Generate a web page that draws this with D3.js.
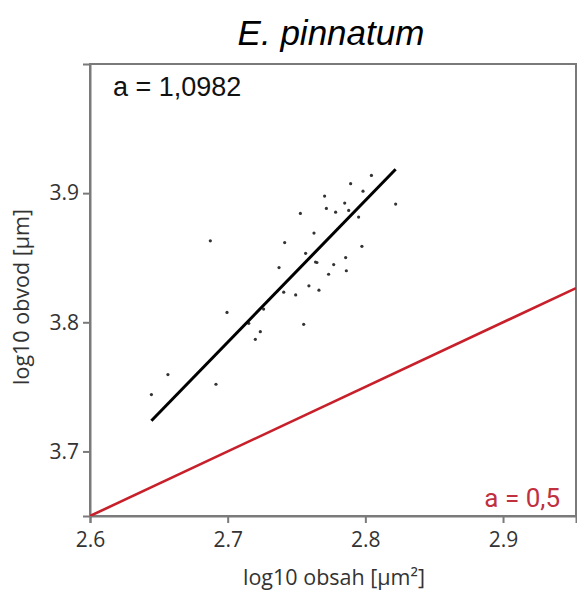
<!DOCTYPE html>
<html><head><meta charset="utf-8">
<script src="https://cdn.jsdelivr.net/npm/d3@7"></script>
<style>body{margin:0;background:#fff}</style>
</head><body>
<svg id="chart" width="577" height="592"></svg>
<script>
const title = "E. pinnatum";
const xLabel = "log10 obsah [µm²]";
const yLabel = "log10 obvod [µm]";
const fitLabel = "a = 1,0982";
const refLabel = "a = 0,5";
const xTicks = [2.6, 2.7, 2.8, 2.9];
const yTicks = [3.7, 3.8, 3.9];
const xDomain = [2.6, 2.953];
const yDomain = [3.65, 4.0];
const pointsX = [2.8044,2.7893,2.7983,2.7704,2.7850,2.8220,2.7717,2.7784,2.7879,2.7528,2.7951,2.7627,2.7414,2.7975,2.7566,2.7857,2.7638,2.7648,2.7373,2.7770,2.7862,2.7733,2.6874,2.7590,2.7663,2.7407,2.7494,2.7261,2.7552,2.7237,2.6995,2.7153,2.7201,2.6566,2.6915,2.6446];
const pointsY = [3.9137,3.9073,3.9015,3.8977,3.8923,3.8915,3.8882,3.8853,3.8866,3.8843,3.8815,3.8691,3.8617,3.8588,3.8534,3.8501,3.8467,3.8463,3.8424,3.8447,3.8399,3.8372,3.8631,3.8282,3.8249,3.8233,3.8212,3.8102,3.7984,3.7927,3.8076,3.7992,3.7868,3.7595,3.7520,3.7440];
const fitX = [2.6446, 2.8220];
const fitY = [3.7237, 3.9185];
const refX = [2.6, 2.953];
const refY = [3.65, 3.8265];

const svg = d3.select("#chart");
const L = 90, R = 576, T = 64, B = 516;
const x = d3.scaleLinear().domain(xDomain).range([L, R]);
const y = d3.scaleLinear().domain(yDomain).range([B, T]);
const axisColor = "#7a7a7a";
const tickFont = "'Open Sans', 'Noto Sans', sans-serif";

// frame
svg.append("rect").attr("x", L).attr("y", T).attr("width", R - L).attr("height", B - T)
  .attr("fill", "none").attr("stroke", axisColor).attr("stroke-width", 2);

const gx = svg.append("g").attr("transform", `translate(0,${B})`)
  .call(d3.axisBottom(x).tickValues(xTicks).tickFormat(d3.format(".1f")).tickSize(7).tickPadding(9));
const gy = svg.append("g").attr("transform", `translate(${L},0)`)
  .call(d3.axisLeft(y).tickValues(yTicks).tickFormat(d3.format(".1f")).tickSize(7).tickPadding(4));
[gx, gy].forEach(g => {
  g.select(".domain").attr("stroke", axisColor).attr("stroke-width", 2);
  g.selectAll(".tick line").attr("stroke", axisColor).attr("stroke-width", 2);
  g.selectAll(".tick text").attr("fill", "#333").style("font-family", tickFont).style("font-size", "21px");
});

const clip = svg.append("clipPath").attr("id", "clip").append("rect")
  .attr("x", L).attr("y", T).attr("width", R - L).attr("height", B - T);
const plot = svg.append("g").attr("clip-path", "url(#clip)");

const line = d3.line().x(d => x(d[0])).y(d => y(d[1]));
plot.append("path").datum(refX.map((v, i) => [v, refY[i]])).attr("d", line)
  .attr("stroke", "#c8202a").attr("stroke-width", 2.6).attr("fill", "none");

plot.selectAll("circle").data(pointsX.map((v, i) => [v, pointsY[i]])).join("circle")
  .attr("cx", d => x(d[0])).attr("cy", d => y(d[1])).attr("r", 1.6).attr("fill", "#333");

plot.append("path").datum(fitX.map((v, i) => [v, fitY[i]])).attr("d", line)
  .attr("stroke", "#000").attr("stroke-width", 3).attr("fill", "none");

svg.append("text").attr("x", 331).attr("y", 45).attr("text-anchor", "middle")
  .style("font-family", "'Liberation Sans', Arial, sans-serif").style("font-style", "italic")
  .style("font-size", "35px").attr("fill", "#000").text(title);

svg.append("text").attr("x", 113).attr("y", 96)
  .style("font-family", "'Liberation Sans', Arial, sans-serif")
  .style("font-size", "27px").attr("fill", "#111").text(fitLabel);

svg.append("text").attr("x", 560).attr("y", 507).attr("text-anchor", "end")
  .style("font-family", "Roboto, 'Open Sans', sans-serif")
  .style("font-size", "26px").attr("fill", "#c0303f").text(refLabel);

svg.append("text").attr("x", 334).attr("y", 585).attr("text-anchor", "middle")
  .style("font-family", tickFont).style("font-size", "21.5px").attr("fill", "#333").text(xLabel);

svg.append("text").attr("transform", "translate(29,297) rotate(-90)").attr("text-anchor", "middle")
  .style("font-family", tickFont).style("font-size", "21.5px").attr("fill", "#333").text(yLabel);
</script>
</body></html>
